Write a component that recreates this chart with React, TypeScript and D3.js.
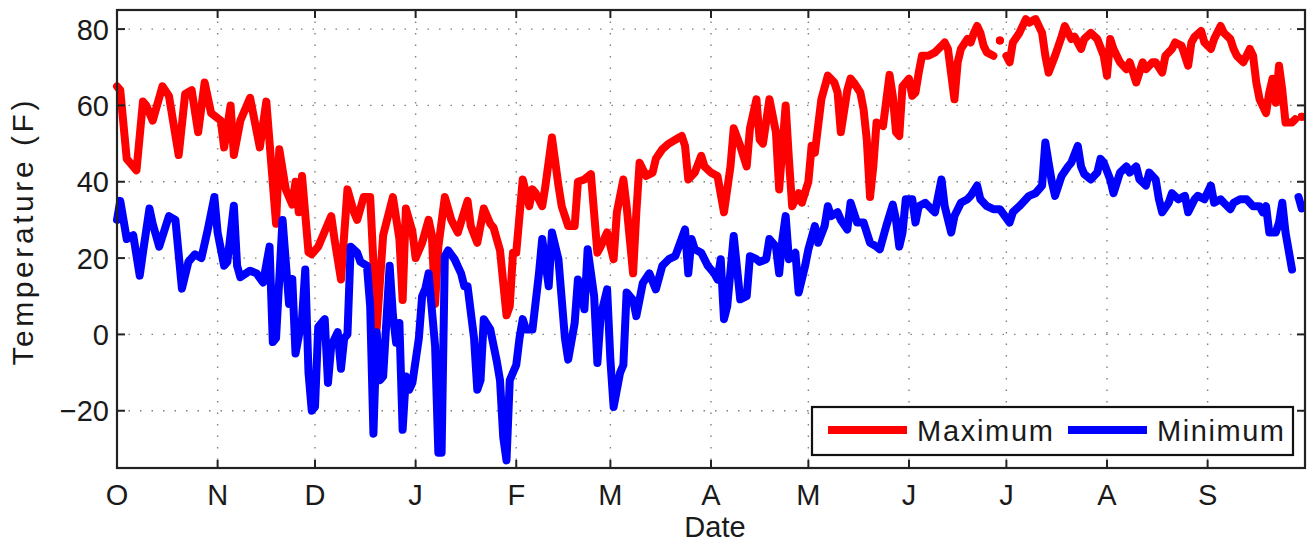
import React from "react";
import * as d3 from "d3";

// Day offsets from Oct 1 and daily temperatures (F); null marks a data gap
const maxDays = [0,1,3,4,6,8,9,11,14,16,19,21,23,25,27,29,32,33,35,36,38,41,44,46,49,50,52,54,55,56,57,59,60,62,63,66,67,69,71,73,74,76,78,80,82,85,87,88,89,91,92,94,96,97,98,99,101,103,105,108,109,111,113,115,116,118,120,121,122,123,125,127,128,129,131,132,134,136,137,139,141,142,144,146,148,149,151,153,154,156,157,159,160,161,163,165,166,168,170,172,174,175,176,178,180,181,183,185,187,189,190,192,194,195,197,198,199,201,203,204,206,207,208,210,211,213,214,215,217,219,221,222,223,225,226,227,229,230,231,232,233,234,236,238,239,240,241,242,244,245,246,247,248,250,252,254,255,256,258,259,260,262,263,264,265,266,267,268,270,271,272,273,274,275,276,278,280,281,283,285,286,287,289,291,292,294,295,297,298,300,302,304,305,306,307,309,311,312,314,316,317,319,320,322,323,325,326,328,330,331,332,334,335,337,338,340,341,343,344,345,347,349,350,351,352,354,355,356,357,358,359,360,362,363,364,365];
const maxTemps: (number | null)[] = [65,64,46,45,43,61,60,56,65,62.5,47,63,64,53,66,58,56,49,60,47,56,62,49,61,29,48.5,38,34,40,32,41.5,21.5,21,23,25,31,25,14.4,38,32,30,36,36,1.5,26,36,25,9,33,27,20,24,30,26,8,23,36,30,26.7,35,28.4,24,33,29,28,22,5,7.4,21.4,21.4,40.6,33.6,38,37,33.6,39,51.6,39,33.6,28.4,28.4,40,40.6,42,21.4,23,26.7,19.7,32,40.6,33.6,16,32,45,41.5,42.4,46,48.5,50,51,52,49.4,40.6,42.4,46.8,44,42.4,41.5,32,44,54,49.4,44,54,61.6,51,50,61.6,53,38,60,46,33.6,37,34.5,40,49.4,47.6,61.6,67.8,66,63.4,53,64,67,66,63.4,59,51,36,44,55.5,54.6,68,62.5,53,52,65,67,62.5,63.4,68.6,73,73,73.9,75.6,76.5,74.8,61.6,71.3,74.8,77.4,76.5,79,80.8,79,75.6,73.9,73,null,77,null,73,71.3,76.5,79,82.6,81.7,82.6,79,73,68.6,73,78,80.8,77.4,78,74.8,77.4,79,77.4,73,67.8,77.4,74.8,71.3,69.5,71.3,66,71.3,69.5,71.3,71.3,68.6,73,74.8,76.5,75.6,70.4,76.5,78,79.5,76.5,74.8,77.4,80.8,79,77.4,74.8,73,71.3,74.8,73,66,61.6,58,63.4,67,60.7,70.4,64,55.5,55.5,56.4,null,57];

const minDays = [0,1,3,5,7,8,10,11,13,16,18,20,22,24,26,28,30,31,33,34,36,37,38,41,43,45,47,48,49,51,53,54,55,57,58,59,60,61,62,64,65,66,68,69,70,71,72,74,75,77,78,79,80,81,82,84,85,86,87,88,89,90,91,93,94,95,96,98,99,100,101,102,104,106,107,108,110,111,112,113,115,117,118,119,120,121,123,124,125,126,128,130,131,133,134,136,138,139,141,142,144,145,147,148,149,151,152,153,155,156,157,159,160,162,164,166,168,170,172,175,176,177,178,180,182,184,185,186,187,188,190,192,194,195,197,198,200,201,203,204,205,206,207,209,210,212,213,215,216,218,219,220,222,223,225,226,228,230,232,234,235,237,239,240,241,242,243,245,246,247,249,251,252,254,255,257,258,260,262,263,265,266,268,270,272,275,276,278,279,281,283,285,286,287,288,289,291,293,294,296,297,298,300,302,303,304,306,307,309,311,312,314,315,317,318,320,321,322,324,325,327,329,330,332,333,335,337,338,340,341,343,344,346,348,350,352,353,354,355,357,358,359,360,362,363,364,365];
const minTemps: (number | null)[] = [30,35,25,26,15.4,21.5,33,29,23,31,30,12,19,21,20,27.6,36,26.7,18,19,33.7,18,15,16.7,16,13.6,23,-2,-1,30,8,14.5,-5,4,17,-10,-20,-19,2,4,-12.7,-3,0.6,-9,-1,0,23,21.4,19,18,7.4,-26,0.6,-12,-11,18,5,-2.2,3,-25,-11,-14.5,-12.7,-1,10,12,16,-3,-31,-31,20.5,22,19.7,16,12.6,12.6,-1,-14.5,-12,4,1.3,-7,-12,-27,-33,-12,-8,-1,4,1.3,1.3,16,25,12.6,26.7,19.7,-1,-6.6,3,14.4,6.6,22.3,10,-7.5,4.8,11.8,-6.6,-19,-10,-8,11,9,4.8,13.5,16,11.8,18,19.7,20.5,27.5,16,25,22.3,21.4,18,16,14.4,19.7,4,7.4,25.8,9.2,10,20.5,19.7,19,19.7,25,23,16,25,31,19.7,21.4,11,18,22.3,28.4,24,28.4,33.6,31,32,30,27.5,34.5,29.3,29.3,24,23,22.3,28.4,34,30,23,26.7,35.4,35.4,29.3,33.6,34.5,32.8,32,40.6,33.6,26.7,31,34.5,35.4,36.3,39,35.4,33.6,32.8,32.8,29.3,32,33.6,34.5,36.3,37,39,50.3,45,40,36.3,41.5,44,45,49.4,44,42,40.6,42.4,46,45,40.6,37,42.4,44,42.4,44,40.6,39,42.4,40.6,35.4,32,34.5,37,35.4,36.3,32,35.4,36.3,35.4,39,34.5,35.4,34.5,32.8,34.5,35.4,35.4,33.6,33.6,32,33.6,26.7,26.7,29.3,34.5,26.7,17,null,36,33];

const monthLabels = ["O", "N", "D", "J", "F", "M", "A", "M", "J", "J", "A", "S"];
const yTicks = [-20, 0, 20, 40, 60, 80];
const seriesNames = ["Maximum", "Minimum"];
const seriesColors = ["#ff0000", "#0000ff"];

const W = 1310;
const H = 543;
const L = 117, R = 1305, T = 10, B = 468;
const FONT = "'Liberation Sans', Arial, Helvetica, sans-serif";

const start = new Date(Date.UTC(2011, 9, 1));
const end = new Date(Date.UTC(2012, 9, 1));
const dayDate = (d: number) => new Date(start.getTime() + d * 86400000);

const x = d3.scaleUtc().domain([start, end]).range([L, R]);
const y = d3.scaleLinear().domain([-35, 85]).range([B, T]);

type Pt = { d: number; v: number | null };

function Series({ days, vals, color }: { days: number[]; vals: (number | null)[]; color: string }) {
  const pts: Pt[] = days.map((d, i) => ({ d, v: vals[i] }));
  const line = d3
    .line<Pt>()
    .defined((p) => p.v != null)
    .x((p) => x(dayDate(p.d)))
    .y((p) => y(p.v as number));
  const isolated = pts.filter(
    (p, i) =>
      p.v != null &&
      (i === 0 || pts[i - 1].v == null) &&
      (i === pts.length - 1 || pts[i + 1].v == null)
  );
  return (
    <g>
      <path d={line(pts) || ""} fill="none" stroke={color} strokeWidth={8} strokeLinejoin="round" strokeLinecap="round" />
      {isolated.map((p, i) => (
        <circle key={i} cx={x(dayDate(p.d))} cy={y(p.v as number)} r={4} fill={color} />
      ))}
    </g>
  );
}

export default function App() {
  const months = d3.utcMonths(start, end);
  const tickLen = 8;
  return (
    <svg
      width={W}
      height={H}
      style={{ position: "fixed", left: 0, top: 0, background: "#fff" }}
      fontFamily={FONT}
    >
      <rect x={0} y={0} width={W} height={H} fill="#fff" />
      {/* grid */}
      {months.slice(1).map((m, i) => (
        <line key={"gx" + i} x1={x(m)} x2={x(m)} y1={T} y2={B} stroke="#808080" strokeWidth={1.4} strokeDasharray="1.5,10" />
      ))}
      {yTicks.map((t) => (
        <line key={"gy" + t} x1={L} x2={R} y1={y(t)} y2={y(t)} stroke="#808080" strokeWidth={1.4} strokeDasharray="1.5,10" />
      ))}
      {/* data */}
      <Series days={maxDays} vals={maxTemps} color={seriesColors[0]} />
      <Series days={minDays} vals={minTemps} color={seriesColors[1]} />
      {/* ticks */}
      {months.map((m, i) => (
        <g key={"tx" + i}>
          <line x1={x(m)} x2={x(m)} y1={B} y2={B - tickLen} stroke="#222" strokeWidth={2} />
          <line x1={x(m)} x2={x(m)} y1={T} y2={T + tickLen} stroke="#222" strokeWidth={2} />
          <text x={x(m)} y={505} textAnchor="middle" fontSize={29} fill="#1a1a1a">
            {monthLabels[i]}
          </text>
        </g>
      ))}
      {yTicks.map((t) => (
        <g key={"ty" + t}>
          <line x1={L} x2={L + tickLen} y1={y(t)} y2={y(t)} stroke="#222" strokeWidth={2} />
          <line x1={R} x2={R - tickLen} y1={y(t)} y2={y(t)} stroke="#222" strokeWidth={2} />
          <text x={109} y={y(t)} dy="0.36em" textAnchor="end" fontSize={29} fill="#1a1a1a">
            {t < 0 ? "\u2212" + Math.abs(t) : String(t)}
          </text>
        </g>
      ))}
      {/* frame */}
      <rect x={L} y={T} width={R - L} height={B - T} fill="none" stroke="#222" strokeWidth={2.2} />
      {/* legend */}
      <g>
        <rect x={812} y={407} width={481} height={48} fill="#fff" stroke="#111" strokeWidth={2.2} />
        <line x1={828} x2={907} y1={430} y2={430} stroke={seriesColors[0]} strokeWidth={8} />
        <text x={917} y={441} fontSize={29} fill="#1a1a1a" textLength={136} lengthAdjust="spacing">
          {seriesNames[0]}
        </text>
        <line x1={1068} x2={1147} y1={430} y2={430} stroke={seriesColors[1]} strokeWidth={8} />
        <text x={1157} y={441} fontSize={29} fill="#1a1a1a" textLength={127} lengthAdjust="spacing">
          {seriesNames[1]}
        </text>
      </g>
      {/* axis labels */}
      <text x={(L + R) / 2 + 4} y={537} textAnchor="middle" fontSize={29} fill="#1a1a1a">
        Date
      </text>
      <text
        transform={`translate(33, ${(T + B) / 2 - 6}) rotate(-90)`}
        textAnchor="middle"
        fontSize={30}
        fill="#1a1a1a"
        textLength={265}
        lengthAdjust="spacing"
      >
        Temperature (F)
      </text>
    </svg>
  );
}
